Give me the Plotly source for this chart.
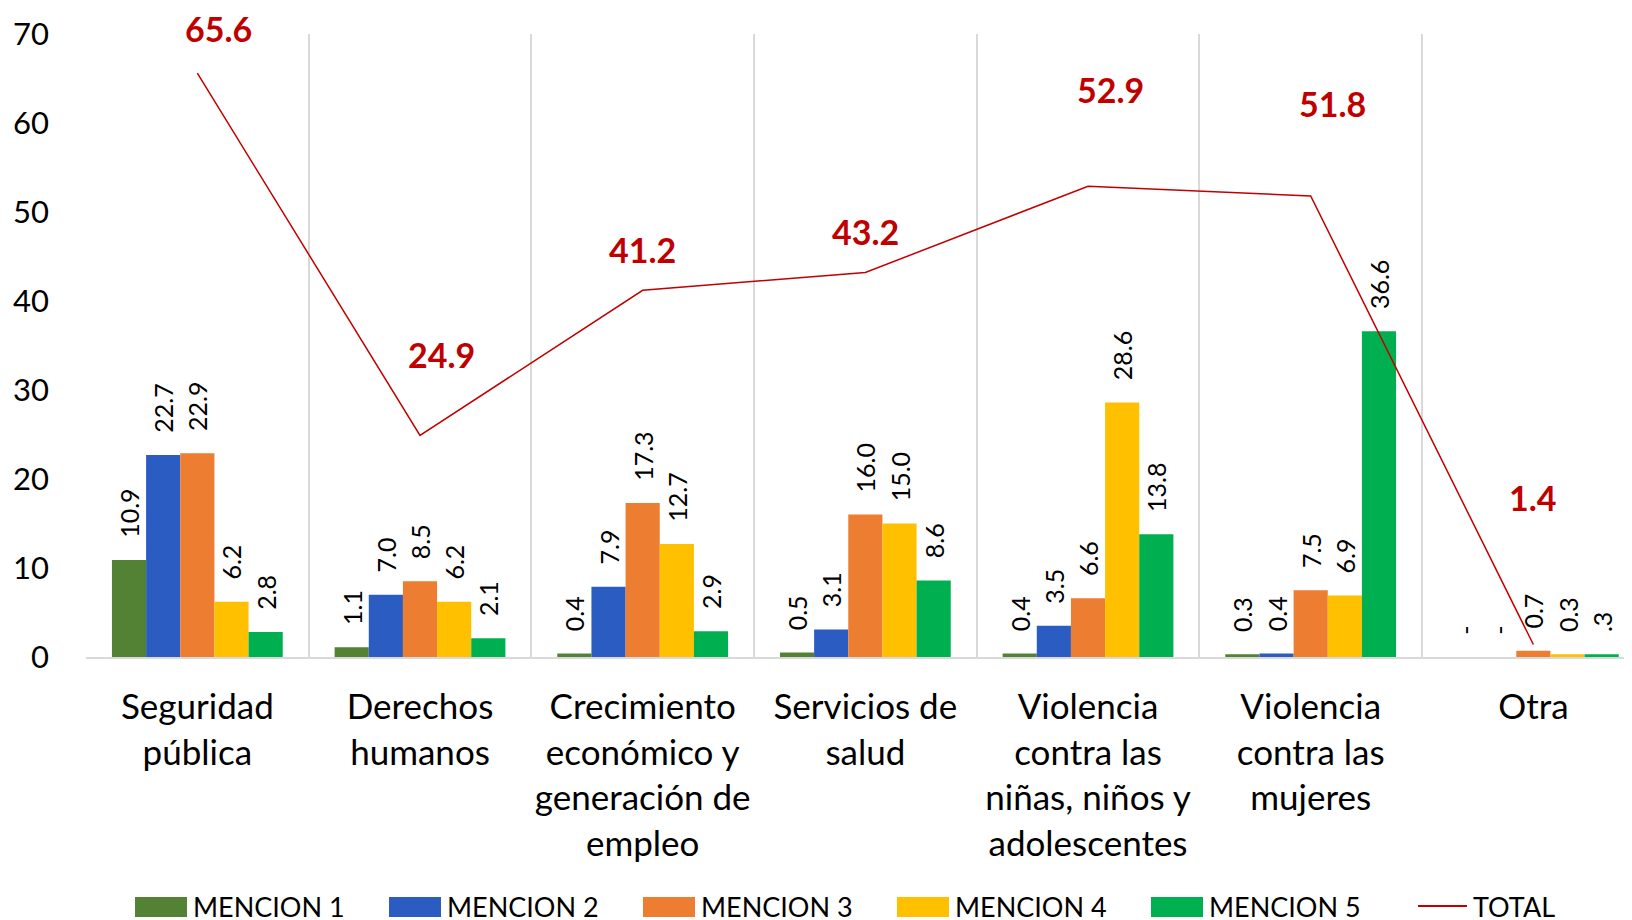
import plotly.graph_objects as go

categories = ["Seguridad<br>pública", "Derechos<br>humanos", "Crecimiento<br>económico y<br>generación de<br>empleo",
              "Servicios de<br>salud", "Violencia<br>contra las<br>niñas, niños y<br>adolescentes",
              "Violencia<br>contra las<br>mujeres", "Otra"]
series_names = ["MENCION 1", "MENCION 2", "MENCION 3", "MENCION 4", "MENCION 5"]
mencion1 = [10.9, 1.1, 0.4, 0.5, 0.4, 0.3, 0.0]
mencion2 = [22.7, 7.0, 7.9, 3.1, 3.5, 0.4, 0.0]
mencion3 = [22.9, 8.5, 17.3, 16.0, 6.6, 7.5, 0.7]
mencion4 = [6.2, 6.2, 12.7, 15.0, 28.6, 6.9, 0.3]
mencion5 = [2.8, 2.1, 2.9, 8.6, 13.8, 36.6, 0.3]
labels1 = ["10.9", "1.1", "0.4", "0.5", "0.4", "0.3", "-"]
labels2 = ["22.7", "7.0", "7.9", "3.1", "3.5", "0.4", "-"]
labels3 = ["22.9", "8.5", "17.3", "16.0", "6.6", "7.5", "0.7"]
labels4 = ["6.2", "6.2", "12.7", "15.0", "28.6", "6.9", "0.3"]
labels5 = ["2.8", "2.1", "2.9", "8.6", "13.8", "36.6", ".3"]
total_name = "TOTAL"
total = [65.6, 24.9, 41.2, 43.2, 52.9, 51.8, 1.4]
total_labels = ["65.6", "24.9", "41.2", "43.2", "52.9", "51.8", "1.4"]
y_ticks = [0, 10, 20, 30, 40, 50, 60, 70]

# styling (label offsets in pixels)
colors = ["#548235", "#2A5CC2", "#ED7D31", "#FFC000", "#00B050"]
total_color = "#C00000"
label_yshift = [45, 81, 41, 41, 97, 92, 147]
label_xshift = [21, 21, 0, 0, 22, 22, 0]

FONT = "Lato"
W, H = 1632, 920
ML, MR, MT, MB = 78, 8, 26, 271
PW, PH = W - ML - MR, H - MT - MB
PAD = "\u00a0\u00a0\u00a0"

def px_x(p):
    return (p - ML) / PW

def px_y(p):
    return (H - MB - p) / PH

x = list(range(len(categories)))
values = [mencion1, mencion2, mencion3, mencion4, mencion5]
texts = [labels1, labels2, labels3, labels4, labels5]

fig = go.Figure()
for name, vals, txt, col in zip(series_names, values, texts, colors):
    fig.add_trace(go.Bar(
        x=x, y=vals, name=name, marker=dict(color=col, line=dict(width=0)),
        text=[PAD + t for t in txt], textposition="outside", textangle=-90, constraintext="none",
        textfont=dict(family=FONT, size=25, color="#000000"), cliponaxis=False,
        showlegend=False,
    ))

fig.add_trace(go.Scatter(
    x=x, y=total, name=total_name, mode="lines",
    line=dict(color=total_color, width=1.5), cliponaxis=False, showlegend=False,
))

for xi, t, lab, ys, xs in zip(x, total, total_labels, label_yshift, label_xshift):
    fig.add_annotation(x=xi, y=t, text="<b>" + lab + "</b>", showarrow=False,
                       yshift=ys, xshift=xs, font=dict(family=FONT, size=34, color=total_color))

# manual legend (pixel positions in figure coordinates)
leg_x0, leg_step, leg_y = 127, 254, 898
for i, (name, col) in enumerate(zip(series_names, colors)):
    x0 = leg_x0 + i * leg_step
    fig.add_shape(type="rect", xref="paper", yref="paper",
                  x0=px_x(x0), x1=px_x(x0 + 52), y0=px_y(889), y1=px_y(909),
                  fillcolor=col, line=dict(width=0))
    fig.add_annotation(xref="paper", yref="paper", x=px_x(x0 + 56), y=px_y(leg_y),
                       text=name, showarrow=False, xanchor="left", yanchor="middle",
                       font=dict(family=FONT, size=27, color="#000000"))
x0 = leg_x0 + 5 * leg_step
fig.add_shape(type="line", xref="paper", yref="paper",
              x0=px_x(x0 + 13), x1=px_x(x0 + 62), y0=px_y(898), y1=px_y(898),
              line=dict(color=total_color, width=2))
fig.add_annotation(xref="paper", yref="paper", x=px_x(x0 + 66), y=px_y(leg_y),
                   text=total_name, showarrow=False, xanchor="left", yanchor="middle",
                   font=dict(family=FONT, size=27, color="#000000"))

fig.update_layout(
    width=W, height=H,
    margin=dict(l=ML, r=MR, t=MT, b=MB, autoexpand=False),
    plot_bgcolor="white", paper_bgcolor="white",
    barmode="group", bargap=0.233, bargroupgap=0,
    font=dict(family=FONT, color="#000000"),
    showlegend=False,
)
fig.update_xaxes(
    range=[-0.5, 6.443], tickvals=x, ticktext=categories, automargin=False,
    tickfont=dict(family=FONT, size=35), showgrid=False, zeroline=False,
    showline=True, linecolor="#D9D9D9", linewidth=2, ticks="", ticklabelstandoff=18,
    minor=dict(tickvals=[i - 0.5 for i in range(len(categories))], showgrid=True,
               gridcolor="#D9D9D9", gridwidth=1.5, ticks=""),
)
fig.update_yaxes(
    range=[0, 70], tickvals=y_ticks, showgrid=False, zeroline=False, showline=False,
    automargin=False, tickfont=dict(family=FONT, size=31), ticks="", ticklabelstandoff=36,
)

fig.write_html("out.html")
